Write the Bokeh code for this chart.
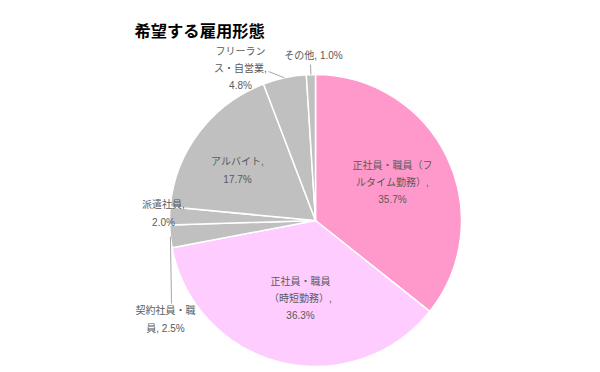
import math
from bokeh.plotting import figure
from bokeh.models import ColumnDataSource, Range1d
from bokeh.core.properties import value
from bokeh.embed import file_html
from bokeh.resources import INLINE

# ---- data ----
title_text = "希望する雇用形態"
categories = ["正社員・職員（フルタイム勤務）", "正社員・職員（時短勤務）", "契約社員・職員",
              "派遣社員", "アルバイト", "フリーランス・自営業", "その他"]
values = [35.7, 36.3, 2.5, 2.0, 17.7, 4.8, 1.0]
label_text = ["正社員・職員（フ\nルタイム勤務）,\n35.7%",
              "正社員・職員\n（時短勤務）,\n36.3%",
              "契約社員・職\n員, 2.5%",
              "派遣社員,\n2.0%",
              "アルバイト,\n17.7%",
              "フリーラン\nス・自営業,\n4.8%",
              "その他, 1.0%"]
colors = ["#FF99CC", "#FFCCFF", "#C0C0C0", "#C0C0C0", "#C0C0C0", "#C0C0C0", "#C0C0C0"]

# ---- layout (page pixel coordinates) ----
W, H = 592, 368
def X(px): return px
def Y(py): return H - py

cx, cy, R = X(315), Y(220), 146
# label block centres (page px)
label_pos = [(392, 182), (300, 298), (165, 319), (163, 213), (237, 170), (240, 68), (313, 55)]
# leader-line outer ends (page px) or None
leader_end = [None, None, (171, 303), None, None, (268, 71), (310, 64)]

total = sum(values)
starts, ends, mids = [], [], []
cum = 0.0
for v in values:
    a0 = math.pi / 2 - 2 * math.pi * cum / total
    cum += v
    a1 = math.pi / 2 - 2 * math.pi * cum / total
    starts.append(a0); ends.append(a1); mids.append((a0 + a1) / 2)

src = ColumnDataSource(dict(x=[cx] * len(values), y=[cy] * len(values),
                            start=starts, end=ends, color=colors, cat=categories))

p = figure(width=W, height=H, output_backend="svg", toolbar_location=None,
           x_range=Range1d(0, W), y_range=Range1d(0, H),
           x_axis_location=None, y_axis_location=None, min_border=0,
           outline_line_color=None)
p.grid.visible = False
p.background_fill_color = "white"
p.border_fill_color = "white"

p.wedge(x="x", y="y", radius=R, start_angle="start", end_angle="end", direction="clock",
        fill_color="color", line_color="white", line_width=1.5, source=src)

# leader lines
for i, e in enumerate(leader_end):
    if e is None:
        continue
    ex = cx + R * math.cos(mids[i])
    ey = cy + R * math.sin(mids[i])
    p.line([ex, X(e[0])], [ey, Y(e[1])], line_color="#A6A6A6", line_width=1)

font = value("Liberation Sans, Noto Sans CJK JP")
lsrc = ColumnDataSource(dict(x=[X(a) for a, b in label_pos], y=[Y(b) for a, b in label_pos],
                             t=label_text))
p.text(x="x", y="y", text="t", source=lsrc, text_font=font, text_font_size="10px",
       text_color="#595959", text_align="center", text_baseline="middle",
       text_line_height=1.55)

p.text(x=[X(134)], y=[Y(29)], text=[title_text], text_font=value("Noto Sans CJK JP"),
       text_font_size="16.3px", text_font_style="bold", text_color="#000000",
       text_align="left", text_baseline="middle")

open("out.html", "w").write(file_html(p, INLINE))
